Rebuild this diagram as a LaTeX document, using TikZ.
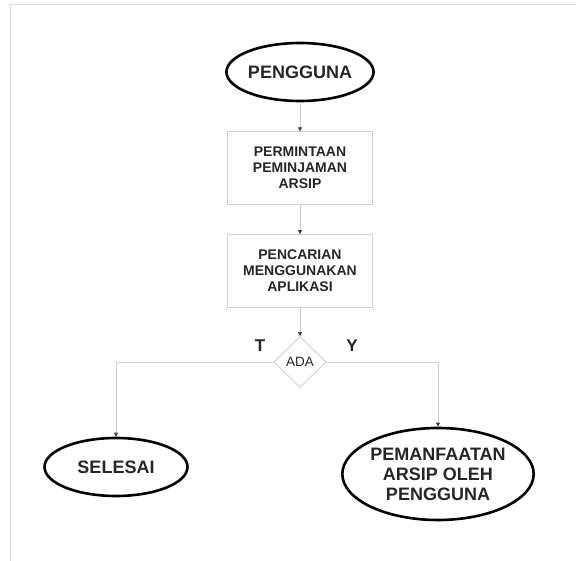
\documentclass[tikz,border=0pt]{standalone}
\usepackage{fontspec}
\setmainfont{Liberation Sans}
\usetikzlibrary{positioning,shapes.geometric,arrows.meta}

\begin{document}
\begin{tikzpicture}[x=1pt, y=-1pt, node distance={29pt},
    terminal/.style ={draw, ellipse, line width=2.6pt, inner sep=0pt, align=center,
        text=black!85, font=\bfseries\fontsize{18}{20}\selectfont},
    process/.style ={draw=black!18, rectangle, line width=0.9pt, minimum width=145pt,
        minimum height=73pt, align=center, text=black!85,
        font=\bfseries\fontsize{14}{16}\selectfont},
    decision/.style ={draw=black!18, diamond, aspect=1, line width=0.9pt, inner sep=0pt,
        minimum width=52pt, minimum height=51pt, text=black!85,
        font=\fontsize{13.5}{15}\selectfont},
    answer/.style ={text=black!85, font=\bfseries\fontsize{17}{19}\selectfont},
    flow/.style ={draw=black!20, line width=0.9pt,
        -{Triangle[length=4pt, width=4pt, color=black!75]}}]
    \useasboundingbox (0,0) rectangle (576,561);
    \draw[black!15, line width=1pt] (10,561) -- (10,5) -- (576,5);
    \node[terminal, minimum width=144pt, minimum height=58pt] (pengguna) at (300,72) {PENGGUNA};
    \node[process] (permintaan) [below=of pengguna] {PERMINTAAN\\PEMINJAMAN\\ARSIP};
    \node[process] (pencarian) [below=of permintaan] {PENCARIAN\\MENGGUNAKAN\\APLIKASI};
    \node[decision] (ada) at (300,362) {ADA};
    \node[answer] (tidak) at (260,346) {T};
    \node[answer] (ya) at (352,346) {Y};
    \node[terminal, minimum width=143pt, minimum height=58pt] (selesai) at (116,467) {SELESAI};
    \node[terminal, minimum width=181pt, minimum height=92pt] (manfaat) at (438,474) {PEMANFAATAN\\ARSIP OLEH\\PENGGUNA};
    \draw[flow] (pengguna) -- (permintaan);
    \draw[flow] (permintaan) -- (pencarian);
    \draw[flow] (pencarian) -- (ada);
    \draw[flow] (ada.west) -| (selesai.north);
    \draw[flow] (ada.east) -| (manfaat.north);
\end{tikzpicture}
\end{document}
